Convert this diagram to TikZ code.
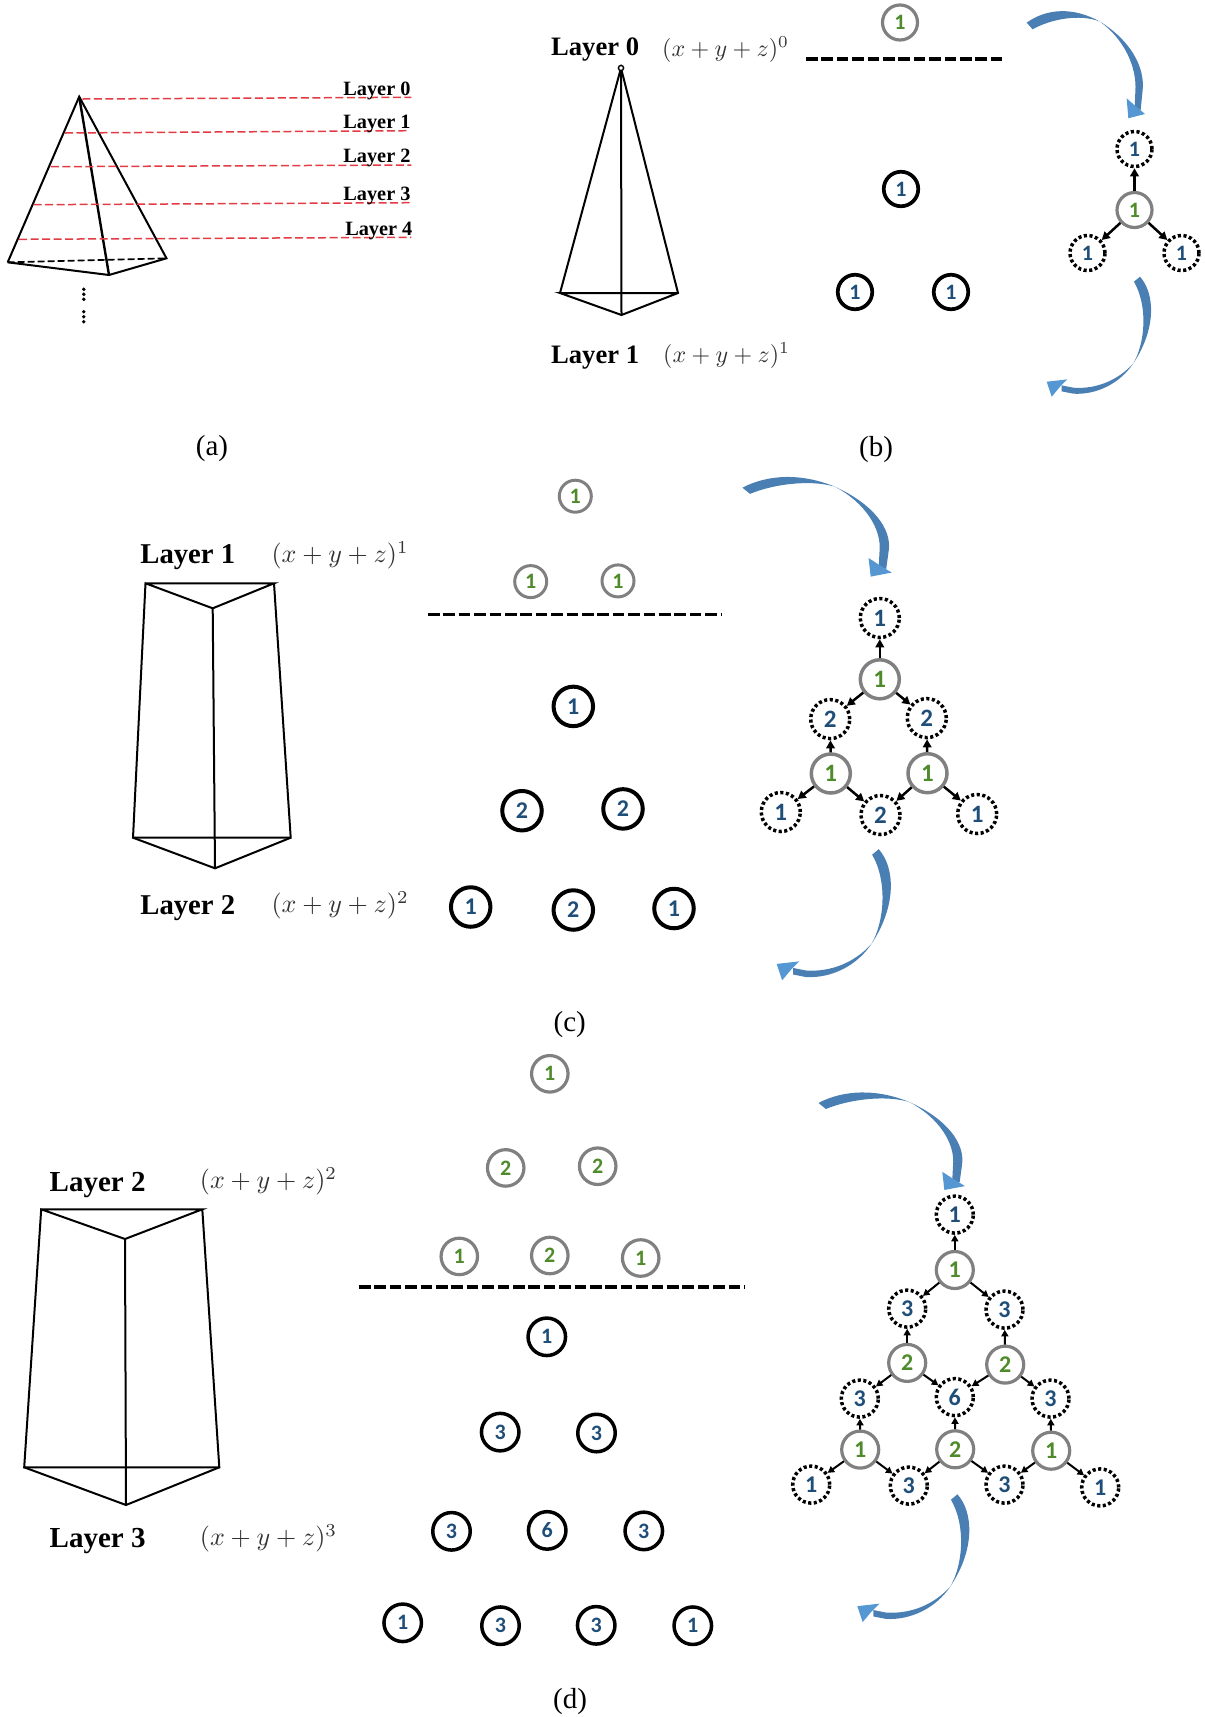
\documentclass[tikz,border=0pt]{standalone}
\usepackage{graphicx}
\usepackage{fontspec}
\setmainfont{Liberation Serif}
\newfontfamily\digitfont{Carlito}
\usetikzlibrary{arrows.meta}
\definecolor{gnum}{HTML}{4F8A2B}
\definecolor{bnum}{HTML}{1F4E79}
\definecolor{gring}{HTML}{808080}
\definecolor{redl}{HTML}{E23B44}
\definecolor{mathc}{HTML}{333333}
\definecolor{arrbody}{HTML}{4A7FB3}
\definecolor{arrhead}{HTML}{5597D2}
\newcommand{\bluetop}[4]{%
\begin{scope}[shift={(#1,#2)},xscale={(#3-#1)/353},yscale={(#4-#2)/325},shift={(-742,-30)}]
\fill[arrbody] (740,68) .. controls (800,25) and (880,20) .. (960,65) .. controls (1050,120) and (1095,200) .. (1088,270) -- (1082,330) -- (1064,325) -- (1066,275) .. controls (1072,200) and (1030,115) .. (960,65) .. controls (900,40) and (810,58) .. (758,88) -- cycle;
\fill[arrhead] (1095,342) -- (1045,355) -- (1040,295) -- (1066,318) -- cycle;
\end{scope}}
\newcommand{\bluedown}[4]{%
\begin{scope}[shift={(#1,#2)},xscale={(#3-#1)/320},yscale={(#4-#2)/360},shift={(-800,-830)}]
\fill[arrbody] (1080,830) .. controls (1125,880) and (1130,985) .. (1060,1090) .. controls (1020,1150) and (950,1185) .. (880,1181) -- (845,1174) -- (845,1156) -- (880,1163) .. controls (950,1168) and (1015,1140) .. (1060,1090) .. controls (1095,1030) and (1105,920) .. (1062,845) -- cycle;
\fill[arrhead] (800,1145) -- (862,1138) -- (840,1160) -- (815,1190) -- cycle;
\end{scope}}
\newcommand{\mathb}[1]{\scalebox{2.4}{$(x+y+z)^{#1}$}}
\newcommand{\mathc}[1]{\scalebox{2.6}{$(x+y+z)^{#1}$}}
\tikzset{
 ringg/.style 2 args={circle,draw=gring,line width=#2,inner sep=0pt,text=gnum,minimum size=#1},
 ringb/.style 2 args={circle,draw=black,line width=#2,inner sep=0pt,text=bnum,minimum size=#1},
 ringd/.style 2 args={circle,draw=black,line width=#2,inner sep=0pt,text=bnum,minimum size=#1,dash pattern=on 3.1pt off 2.5pt},
 dsize/.style={font={\digitfont\bfseries\fontsize{#1}{#1}\selectfont}},
 gb/.style={ringg={35}{3.2},dsize=22},
 bb/.style={ringb={34.5}{3.7},dsize=22},
 db/.style={ringd={35}{3.5},dsize=22},
 gc/.style={ringg={32}{3},dsize=22},
 bc/.style={ringb={39.5}{4},dsize=24},
 gct/.style={ringg={39}{3.5},dsize=25},
 dct/.style={ringd={39}{3.5},dsize=25},
 gd/.style={ringg={36.5}{3.2},dsize=22},
 bd/.style={ringb={37.5}{3.5},dsize=22},
 gdt/.style={ringg={37}{3.2},dsize=24},
 ddt/.style={ringd={37}{3.5},dsize=24},
 conn/.style={line width=2.5pt,-{Triangle[length=8pt,width=8.5pt]}},
 connthin/.style={line width=2pt,-{Triangle[length=6.5pt,width=7pt]}},
 pyr/.style={line width=2pt,line join=miter},
 redline/.style={draw=redl,line width=1.5pt,dash pattern=on 8pt off 3.5pt},
 sepline/.style={line width=3.8pt,dash pattern=on 11.5pt off 3.9pt},
 layersm/.style={anchor=base west,inner sep=0pt,font={\bfseries\fontsize{20.3}{20.3}\selectfont}},
 layerb/.style={anchor=base west,inner sep=0pt,font={\bfseries\fontsize{26.6}{26.6}\selectfont}},
 layerc/.style={anchor=base west,inner sep=0pt,font={\bfseries\fontsize{28.7}{28.7}\selectfont}},
 layerd/.style={anchor=base west,inner sep=0pt,font={\bfseries\fontsize{29}{29}\selectfont}},
 mathn/.style={anchor=base west,inner sep=0pt,text=mathc},
 caption/.style={inner sep=0pt,font={\fontsize{29}{29}\selectfont}}
}
\begin{document}
\begin{tikzpicture}[x=1pt,y=-1pt]
\useasboundingbox (0,0) rectangle (1205,1717);
% ---------- (a)
\coordinate (aT) at (79.2,96.7);
\coordinate (aL) at (7.7,262.3);
\coordinate (aF) at (109,275);
\coordinate (aR) at (166.5,258.3);
\draw[pyr] (aL) -- (aT) -- (aR) -- (aF) -- (aL);
\draw[pyr,line width=2.4pt] (aT) -- (aF);
\draw[line width=1.7pt,dash pattern=on 7pt off 3pt] (aL) -- (aR);
\coordinate (r0a) at (82.3,99); \coordinate (r0b) at (411.4,97.3);
\coordinate (r1a) at (65,133); \coordinate (r1b) at (409.5,130.7);
\coordinate (r2a) at (50.9,166.7); \coordinate (r2b) at (411.4,165);
\coordinate (r3a) at (33.7,204.7); \coordinate (r3b) at (411.4,202.7);
\coordinate (r4a) at (19.1,239.3); \coordinate (r4b) at (411.4,237.3);
\draw[redline] (r0a) -- (r0b);
\draw[redline] (r1a) -- (r1b);
\draw[redline] (r2a) -- (r2b);
\draw[redline] (r3a) -- (r3b);
\draw[redline] (r4a) -- (r4b);
\node[layersm] (aL0) at (343.2,95) {Layer 0};
\node[layersm] (aL1) at (343.2,128.3) {Layer 1};
\node[layersm] (aL2) at (343.2,162.7) {Layer 2};
\node[layersm] (aL3) at (343.2,200) {Layer 3};
\node[layersm] (aL4) at (345.1,235) {Layer 4};
\fill (83.8,289.3) circle (1.9) (83.8,294.3) circle (1.9) (83.8,299.3) circle (1.9)
      (83.8,311.7) circle (1.9) (83.8,316.7) circle (1.9) (83.8,321.7) circle (1.9);
\node[caption] (capa) at (212,448.7) {(a)};
% ---------- (b)
\coordinate (bT) at (621,68);
\coordinate (bL) at (560,293);
\coordinate (bR) at (678,293);
\coordinate (bF) at (621.5,315);
\draw[pyr] (bL) -- (bT) -- (bR) -- (bF) -- (bL) -- (bR);
\draw[pyr] (bT) -- (bF);
\draw[line width=1.4pt,fill=white] (bT) circle (2.6);
\node[layerb] (bL0) at (551,55) {Layer 0};
\node[layerb] (bL1) at (551,363.3) {Layer 1};
\node[mathn] (bm0) at (662,56) {\mathb{0}};
\node[mathn] (bm1) at (663,362.3) {\mathb{1}};
\coordinate (bs0) at (806,59); \coordinate (bs1) at (1002,59);
\draw[sepline] (bs0) -- (bs1);
\node[gb] (b1) at (900,22.5) {1};
\node[bb] (b2) at (901,189) {1};
\node[bb] (b3) at (855,292) {1};
\node[bb] (b4) at (951,292) {1};
\node[db] (bd1) at (1134.5,149) {1};
\node[gb] (bg1) at (1134.5,210) {1};
\node[db] (bd2) at (1087.5,253) {1};
\node[db] (bd3) at (1181.5,253) {1};
\draw[conn] (bg1) -- (bd1);
\draw[conn] (bg1) -- (bd2);
\draw[conn] (bg1) -- (bd3);
\bluetop{1027.3}{10}{1145}{118.3}
\bluedown{1046.7}{276.7}{1153.3}{396.7}
\node[caption] (capb) at (876,449.5) {(b)};
% ---------- (c)
\coordinate (cTL) at (145.5,583.3);
\coordinate (cTR) at (274,583.3);
\coordinate (cTF) at (212.7,608.3);
\coordinate (cBL) at (133,837.7);
\coordinate (cBR) at (290.7,837.7);
\coordinate (cBF) at (215,868.3);
\draw[pyr] (cTL) -- (cTR) -- (cTF) -- (cTL) -- (cBL) -- (cBR) -- (cTR);
\draw[pyr] (cBL) -- (cBF) -- (cBR);
\draw[pyr] (cTF) -- (cBF);
\node[layerc] (cL1) at (140.2,563.3) {Layer 1};
\node[layerc] (cL2) at (140.2,914.3) {Layer 2};
\node[mathn] (cm1) at (271.3,562.7) {\mathc{1}};
\node[mathn] (cm2) at (271.3,912.7) {\mathc{2}};
\coordinate (cs0) at (428,614.4); \coordinate (cs1) at (720.7,614.4);
\draw[sepline] (cs0) -- (cs1);
\node[gc] (c1) at (575.3,496.2) {1};
\node[gc] (c2) at (530.7,581.6) {1};
\node[gc] (c3) at (618,580.9) {1};
\node[bc] (c4) at (573.3,706.4) {1};
\node[bc] (c5) at (522,810.7) {2};
\node[bc] (c6) at (623,808.9) {2};
\node[bc] (c7) at (470.7,907) {1};
\node[bc] (c8) at (573.3,910) {2};
\node[bc] (c9) at (674,908.5) {1};
\node[dct] (cd1) at (879.8,618) {1};
\node[gct] (cg1) at (879.8,679.3) {1};
\node[dct] (cd2) at (830.2,719.1) {2};
\node[dct] (cd3) at (926.8,718.1) {2};
\node[gct] (cg2) at (830.8,773.5) {1};
\node[gct] (cg3) at (927.5,773.2) {1};
\node[dct] (cd4) at (780.8,812) {1};
\node[dct] (cd5) at (880.5,815) {2};
\node[dct] (cd6) at (977.2,814) {1};
\draw[conn] (cg1) -- (cd1);
\draw[conn] (cg1) -- (cd2);
\draw[conn] (cg1) -- (cd3);
\draw[conn] (cg2) -- (cd2);
\draw[conn] (cg2) -- (cd4);
\draw[conn] (cg2) -- (cd5);
\draw[conn] (cg3) -- (cd3);
\draw[conn] (cg3) -- (cd5);
\draw[conn] (cg3) -- (cd6);
\bluetop{743.3}{475.9}{891.7}{576.6}
\bluedown{776.7}{849.2}{893.3}{980.3}
\node[caption] (capc) at (569.7,1024.5) {(c)};
% ---------- (d)
\coordinate (dTL) at (41.2,1209.3);
\coordinate (dTR) at (202.3,1209.3);
\coordinate (dTF) at (125,1239);
\coordinate (dBL) at (24.2,1467.3);
\coordinate (dBR) at (219.3,1467.3);
\coordinate (dBF) at (126,1505);
\draw[pyr] (dTL) -- (dTR) -- (dTF) -- (dTL) -- (dBL) -- (dBR) -- (dTR);
\draw[pyr] (dBL) -- (dBF) -- (dBR);
\draw[pyr] (dTF) -- (dBF);
\node[layerd] (dL2) at (49.5,1191) {Layer 2};
\node[layerd] (dL3) at (49.5,1547.7) {Layer 3};
\node[mathn] (dm2) at (199.7,1188.7) {\mathc{2}};
\node[mathn] (dm3) at (199.7,1545.7) {\mathc{3}};
\coordinate (ds0) at (359,1286.6); \coordinate (ds1) at (744.5,1286.6);
\draw[sepline] (ds0) -- (ds1);
\node[gd] (e1) at (549.8,1073.8) {1};
\node[gd] (e2) at (505.7,1167.9) {2};
\node[gd] (e3) at (597.7,1166.2) {2};
\node[gd] (e4) at (459.3,1256.4) {1};
\node[gd] (e5) at (549.8,1255.5) {2};
\node[gd] (e6) at (640.7,1258) {1};
\node[bd] (f1) at (546.8,1336.8) {1};
\node[bd] (f2) at (500.2,1432.1) {3};
\node[bd] (f3) at (596.5,1433) {3};
\node[bd] (f4) at (451.5,1531.3) {3};
\node[bd] (f5) at (547.2,1530.4) {6};
\node[bd] (f6) at (643.8,1530.9) {3};
\node[bd] (f7) at (402.7,1622.8) {1};
\node[bd] (f8) at (500.5,1625.7) {3};
\node[bd] (f9) at (596.2,1625.3) {3};
\node[bd] (f10) at (692.8,1625.7) {1};
\node[ddt] (dd1) at (954.8,1214.6) {1};
\node[gdt] (dg1) at (954.8,1270) {1};
\node[ddt] (dd2) at (907.2,1308.6) {3};
\node[ddt] (dd3) at (1004.5,1309.6) {3};
\node[gdt] (dg2) at (907.2,1362.9) {2};
\node[gdt] (dg3) at (1005.2,1364.6) {2};
\node[ddt] (dd4) at (859.8,1398.6) {3};
\node[ddt] (dd5) at (954.8,1397.1) {6};
\node[ddt] (dd6) at (1050.5,1398.6) {3};
\node[gdt] (dg4) at (860.2,1449.6) {1};
\node[gdt] (dg5) at (955.2,1449.3) {2};
\node[gdt] (dg6) at (1051.2,1450.7) {1};
\node[ddt] (dd7) at (811.2,1484.6) {1};
\node[ddt] (dd8) at (908.8,1485.6) {3};
\node[ddt] (dd9) at (1004.5,1484.6) {3};
\node[ddt] (dd10) at (1100.2,1487.4) {1};
\draw[connthin] (dg1) -- (dd1);
\draw[connthin] (dg1) -- (dd2);
\draw[connthin] (dg1) -- (dd3);
\draw[connthin] (dg2) -- (dd2);
\draw[connthin] (dg2) -- (dd4);
\draw[connthin] (dg2) -- (dd5);
\draw[connthin] (dg3) -- (dd3);
\draw[connthin] (dg3) -- (dd5);
\draw[connthin] (dg3) -- (dd6);
\draw[connthin] (dg4) -- (dd4);
\draw[connthin] (dg4) -- (dd7);
\draw[connthin] (dg4) -- (dd8);
\draw[connthin] (dg5) -- (dd5);
\draw[connthin] (dg5) -- (dd8);
\draw[connthin] (dg5) -- (dd9);
\draw[connthin] (dg6) -- (dd6);
\draw[connthin] (dg6) -- (dd9);
\draw[connthin] (dg6) -- (dd10);
\bluetop{819.3}{1091.4}{965}{1190}
\bluedown{857.3}{1494.3}{971.7}{1622.1}
\node[caption] (capd) at (570,1702) {(d)};
\end{tikzpicture}
\end{document}
